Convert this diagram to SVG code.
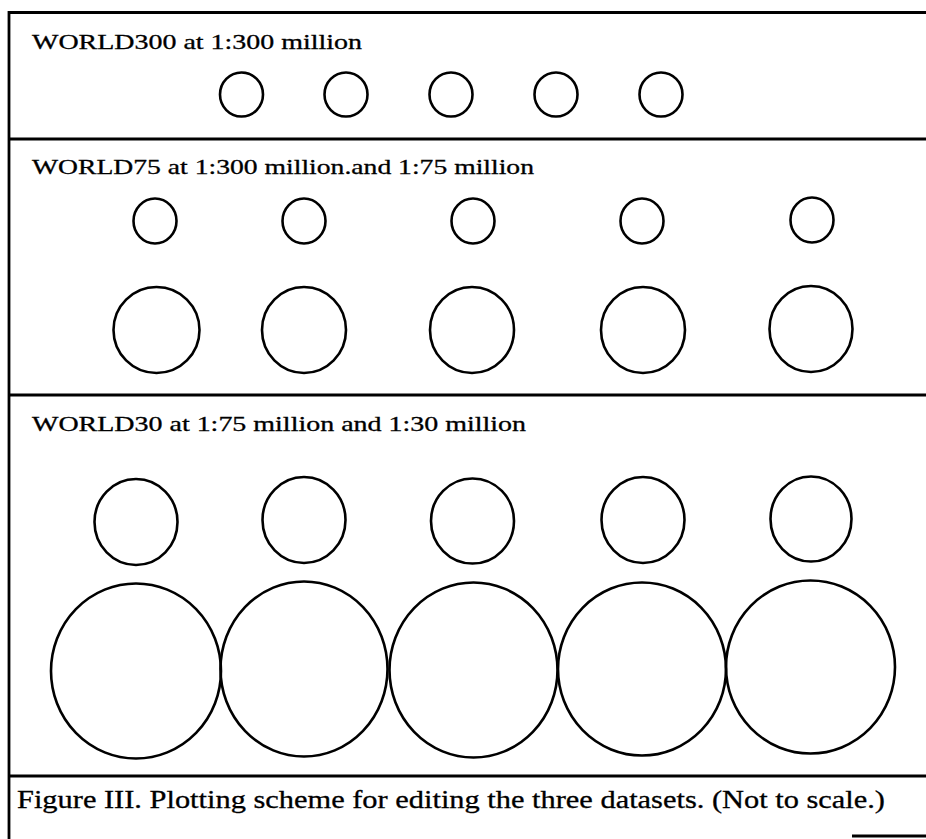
<svg xmlns="http://www.w3.org/2000/svg" width="926" height="839" viewBox="0 0 926 839">
<style>
.frame{fill:none;stroke:#000;stroke-width:2.8}
.c{fill:none;stroke:#000;stroke-width:2.6}
.t{font-family:"Liberation Serif","Times New Roman",serif;font-size:21px;fill:#000;stroke:#000;stroke-width:0.3}
.cap{font-family:"Liberation Serif","Times New Roman",serif;font-size:25px;fill:#000;stroke:#000;stroke-width:0.3}
</style>
<rect width="926" height="839" fill="#fff"/>
<g id="frame">
<line class="frame" x1="9" y1="12.5" x2="926" y2="12.5"/>
<line class="frame" x1="9" y1="11" x2="9" y2="839"/>
<line class="frame" x1="8" y1="139" x2="926" y2="139"/>
<line class="frame" x1="8" y1="395" x2="926" y2="395"/>
<line class="frame" x1="8" y1="776" x2="926" y2="776"/>
<line class="frame" x1="852" y1="836" x2="926" y2="836"/>
</g>
<g id="world300">
<text class="t" x="32" y="49" textLength="330" lengthAdjust="spacingAndGlyphs">WORLD300 at 1:300 million</text>
<ellipse class="c" cx="241.5" cy="94.5" rx="21.5" ry="22"/>
<ellipse class="c" cx="346" cy="94.5" rx="21.5" ry="22"/>
<ellipse class="c" cx="451" cy="94.5" rx="21.5" ry="22"/>
<ellipse class="c" cx="556" cy="94.5" rx="21.5" ry="22"/>
<ellipse class="c" cx="661" cy="94.5" rx="21.5" ry="22"/>
</g>
<g id="world75">
<text class="t" x="32" y="174" textLength="502" lengthAdjust="spacingAndGlyphs">WORLD75 at 1:300 million.and 1:75 million</text>
<ellipse class="c" cx="155" cy="221" rx="21.5" ry="22.5"/>
<ellipse class="c" cx="304" cy="221" rx="21.5" ry="22.5"/>
<ellipse class="c" cx="473" cy="221" rx="21.5" ry="22.5"/>
<ellipse class="c" cx="642" cy="221" rx="21.5" ry="22.5"/>
<ellipse class="c" cx="812" cy="220" rx="21.5" ry="22.5"/>
<ellipse class="c" cx="156.5" cy="330" rx="43" ry="43"/>
<ellipse class="c" cx="304" cy="330" rx="42" ry="43"/>
<ellipse class="c" cx="472" cy="330" rx="42" ry="43"/>
<ellipse class="c" cx="643" cy="330" rx="42" ry="43"/>
<ellipse class="c" cx="811" cy="329" rx="41.5" ry="43"/>
</g>
<g id="world30">
<text class="t" x="32" y="431" textLength="494" lengthAdjust="spacingAndGlyphs">WORLD30 at 1:75 million and 1:30 million</text>
<ellipse class="c" cx="136" cy="522" rx="41.5" ry="43"/>
<ellipse class="c" cx="304" cy="520" rx="41.5" ry="43"/>
<ellipse class="c" cx="472.5" cy="521" rx="41.5" ry="42.5"/>
<ellipse class="c" cx="643" cy="520" rx="41.5" ry="43"/>
<ellipse class="c" cx="811" cy="519" rx="40.5" ry="42.5"/>
<ellipse class="c" cx="136" cy="671" rx="85" ry="87.5"/>
<ellipse class="c" cx="304" cy="669" rx="83.5" ry="87.5"/>
<ellipse class="c" cx="473.5" cy="670" rx="84" ry="87.5"/>
<ellipse class="c" cx="642" cy="669" rx="84" ry="86.5"/>
<ellipse class="c" cx="810.5" cy="667" rx="84.5" ry="86.5"/>
</g>
<g id="caption">
<text class="cap" x="17" y="808" textLength="868" lengthAdjust="spacingAndGlyphs">Figure III. Plotting scheme for editing the three datasets. (Not to scale.)</text>
</g>
</svg>
